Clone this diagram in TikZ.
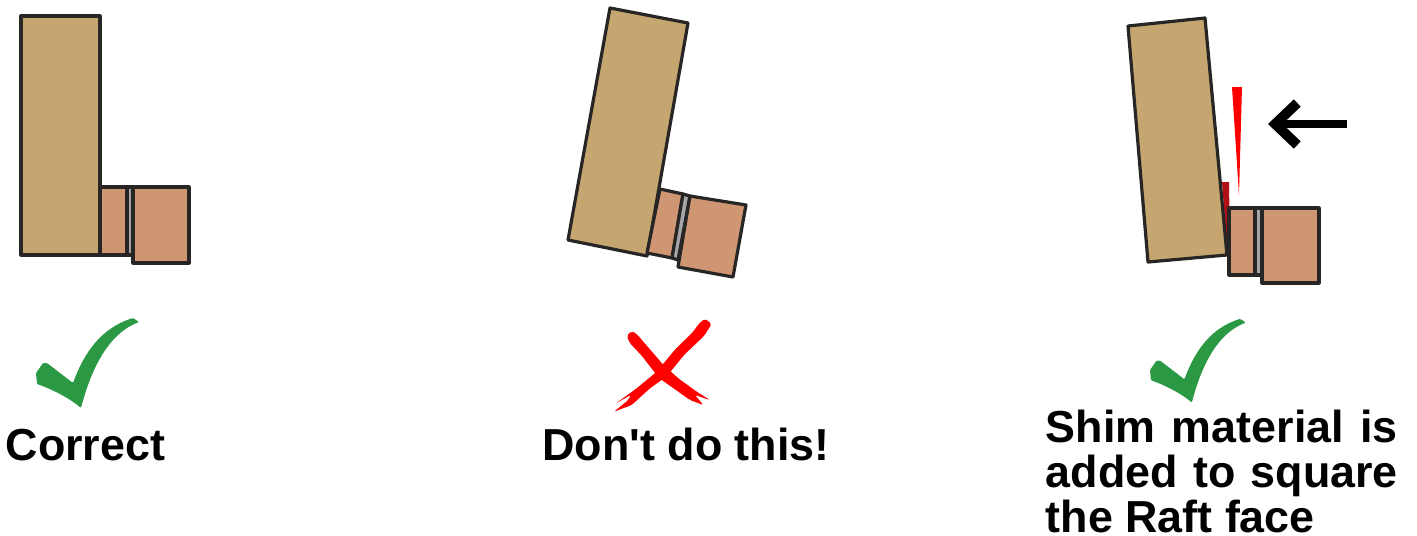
\documentclass[tikz,border=0pt]{standalone}
\usepackage{fontspec}
\newfontfamily\captionfont{Liberation Sans}
\usetikzlibrary{arrows.meta}

\definecolor{oakwood}{RGB}{197,166,112}
\definecolor{cherrywood}{RGB}{207,150,115}
\definecolor{spacergrey}{RGB}{165,165,170}
\definecolor{woodedge}{RGB}{40,38,36}
\definecolor{shimred}{RGB}{178,16,22}
\definecolor{tickgreen}{RGB}{43,153,68}

\tikzset{
    board/.style={draw=woodedge, line width=0.032cm, line join=round, fill=oakwood},
    block/.style={draw=woodedge, line width=0.032cm, line join=round, fill=cherrywood},
    spacer/.style={draw=woodedge, line width=0.032cm, line join=round, fill=spacergrey},
    caption/.style={inner sep=0pt, font=\fontsize{12.75}{12.8}\selectfont\captionfont\bfseries},
    pusharrow/.style={line width=0.08cm, -{Straight Barb[length=0.22cm,width=0.42cm,line width=0.1cm]}},
    crossmark/.style={fill=red, rounded corners=0.02cm},
    tick/.pic={
        \fill[tickgreen, rounded corners=0.01cm] (0,0) -- (7,-10) -- (11,-10) -- (37,10)
            .. controls (48,-20) and (65,-45) .. (97,-55)
            -- (103,-51)
            .. controls (88,-45) and (62,-30) .. (45,35)
            .. controls (32,24) and (15,16) .. (1,11) -- cycle;
    }
}

\begin{document}
\begin{tikzpicture}[x=0.01cm,y=-0.01cm]
    \useasboundingbox (0,0) rectangle (1417,536);

    % Square joint
    \draw[board] (21,16) -- (100,16) -- (100,255) -- (21,255) -- cycle;
    \draw[block] (100,187) -- (127,187) -- (127,255) -- (100,255) -- cycle;
    \draw[spacer] (127,187) -- (133,187) -- (133,255) -- (127,255) -- cycle;
    \draw[block] (133,187) -- (189,187) -- (189,263) -- (133,263) -- cycle;

    % Tilted joint
    \draw[board] (610,8) -- (688,23) -- (647,256) -- (568,240) -- cycle;
    \draw[block] (660,189) -- (683,194) -- (672,258) -- (647,253) -- cycle;
    \draw[spacer] (683,194) -- (690,196) -- (678,260) -- (672,258) -- cycle;
    \draw[block] (690,196) -- (746,205) -- (733,277) -- (678,267) -- cycle;

    % Shimmed joint
    \fill[shimred] (1222,182) -- (1229,182) -- (1230,248) -- (1227,248) -- cycle;
    \draw[board] (1128,26) -- (1205,18) -- (1227,255) -- (1148,262) -- cycle;
    \draw[block] (1229,208) -- (1255,208) -- (1255,275) -- (1229,275) -- cycle;
    \draw[spacer] (1255,208) -- (1262,208) -- (1262,275) -- (1255,275) -- cycle;
    \draw[block] (1262,208) -- (1319,208) -- (1319,283) -- (1262,283) -- cycle;
    \fill[red] (1232,87) -- (1242,87) -- (1239,195) -- cycle;

    % Arrow
    \coordinate (pushtail) at (1347,124);
    \coordinate (pushtip) at (1268,124);
    \draw[pusharrow] (pushtail) -- (pushtip);

    % Marks
    \pic at (36,373) {tick};
    \pic[scale=0.93] at (1150,370) {tick};
    \path[crossmark] (626.7,336) -- (631.7,331) -- (636.7,334) -- (663,364.5) -- (678.3,378.3)
        -- (696.7,391.7) -- (710,400) -- (695,395) -- (703.3,405) -- (690,400)
        -- (659,378) -- (642,356) -- (630,343.3) -- cycle;
    \path[crossmark] (699.3,323.3) -- (705,318.7) -- (711.7,324) -- (704,336) -- (684.5,354.5)
        -- (666.5,376.5) -- (650,388.3) -- (631.7,405) -- (614,411.7) -- (628.3,400)
        -- (630.7,395) -- (616,403.3) -- (636.7,388.3) -- (656.7,371.7) -- (675.5,349)
        -- (692.5,332.5) -- cycle;

    % Captions
    \node[caption, anchor=base west] (correct) at (5,460) {Correct};
    \node[caption, anchor=base] (dont) at (686,460) {Don't do this!};
    \node[caption, anchor=north west, align=left] (shim) at (1045,409) {%
        \makebox[3.52cm][s]{Shim material is}\\
        \makebox[3.52cm][s]{added to square}\\
        the Raft face};
\end{tikzpicture}
\end{document}
